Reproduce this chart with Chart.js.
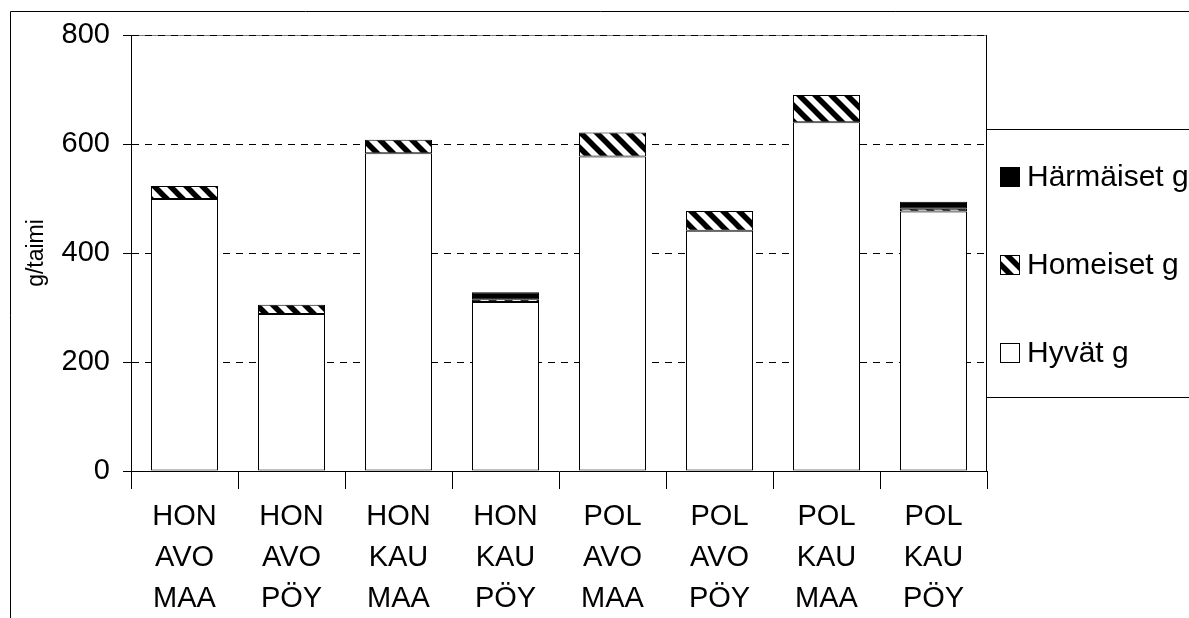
<!DOCTYPE html>
<html>
<head>
<meta charset="utf-8">
<script src="https://cdn.jsdelivr.net/npm/chart.js@4/dist/chart.umd.min.js"></script>
<style>
  body { margin: 0; background: #fff; }
  #chart1 { display: block; }
</style>
</head>
<body>
<canvas id="chart1" width="1189" height="618"></canvas>
<script>
// categories (three label rows each) and stacked series, g/taimi
var categories = [
    ['HON', 'AVO', 'MAA'], ['HON', 'AVO', 'PÖY'], ['HON', 'KAU', 'MAA'], ['HON', 'KAU', 'PÖY'],
    ['POL', 'AVO', 'MAA'], ['POL', 'AVO', 'PÖY'], ['POL', 'KAU', 'MAA'], ['POL', 'KAU', 'PÖY']
]
var hyvat = [499, 288, 583, 310, 577, 441, 640, 476]
var homeiset = [24, 17, 25, 5, 44, 36, 50, 5]
var harmaiset = [0, 0, 0, 13, 0, 0, 0, 13]
var yTicks = [0, 200, 400, 600, 800]

var fontFamily = '"Liberation Sans", Arial, sans-serif'

function makeHatch() {
    var c = document.createElement('canvas')
    c.width = 16
    c.height = 16
    var g = c.getContext('2d')
    g.fillStyle = '#fff'
    g.fillRect(0, 0, 16, 16)
    g.strokeStyle = '#000'
    g.lineWidth = 5.5
    g.beginPath()
    var offs = [-16, 0, 16]
    for (let i = 0; i < offs.length; i++) {
        g.moveTo(offs[i] - 4, -4)
        g.lineTo(offs[i] + 20, 20)
    }
    g.stroke()
    return g.createPattern(c, 'repeat')
}

var frameAndLegend = {
    id: 'frameAndLegend',
    beforeDraw: function(chart) {
        var ctx = chart.ctx
        var a = chart.chartArea
        ctx.save()
        ctx.fillStyle = '#fff'
        ctx.fillRect(0, 0, chart.width, chart.height)
        ctx.strokeStyle = '#000'
        ctx.lineWidth = 1
        ctx.beginPath()
        ctx.moveTo(10.5, chart.height + 2)
        ctx.lineTo(10.5, 11.5)
        ctx.lineTo(chart.width + 2, 11.5)
        ctx.stroke()
        ctx.strokeStyle = '#808080'
        ctx.beginPath()
        ctx.moveTo(a.left, Math.round(a.top) + 0.5)
        ctx.lineTo(a.right, Math.round(a.top) + 0.5)
        ctx.stroke()
        ctx.restore()
    },
    afterDraw: function(chart) {
        var ctx = chart.ctx
        var a = chart.chartArea
        ctx.save()
        ctx.strokeStyle = '#000'
        ctx.lineWidth = 1
        var rx = Math.round(a.right) - 0.5
        ctx.beginPath()
        ctx.moveTo(rx, a.top)
        ctx.lineTo(rx, a.bottom)
        ctx.stroke()
        // legend box, runs off the right edge
        ctx.strokeRect(rx, 129.5, 400, 268)
        var sets = chart.data.datasets.slice().reverse()
        var rowY = [177, 265, 353]
        ctx.font = '30px ' + fontFamily
        ctx.textBaseline = 'middle'
        ctx.textAlign = 'left'
        for (let i = 0; i < sets.length; i++) {
            var y = rowY[i]
            ctx.fillStyle = sets[i].backgroundColor
            ctx.fillRect(1000, y - 10, 20, 20)
            ctx.strokeStyle = '#000'
            ctx.strokeRect(1000.5, y - 9.5, 19, 19)
            ctx.fillStyle = '#000'
            ctx.fillText(sets[i].label, 1027, y + 1)
        }
        ctx.restore()
    }
}

window.onload = () => {
    var ctx = document.getElementById('chart1').getContext('2d')
    var hatch = makeHatch()
    window.myBar = new Chart(ctx, {
        type: 'bar',
        data: {
            labels: categories,
            datasets: [
                { label: 'Hyvät g', data: hyvat, backgroundColor: '#ffffff' },
                { label: 'Homeiset g', data: homeiset, backgroundColor: hatch },
                { label: 'Härmäiset g', data: harmaiset, backgroundColor: '#000000' }
            ]
        },
        plugins: [frameAndLegend],
        options: {
            responsive: false,
            animation: false,
            devicePixelRatio: 1,
            layout: { padding: { left: 10, top: 35, right: 202, bottom: 0 } },
            datasets: {
                bar: {
                    borderColor: '#000',
                    borderWidth: 1,
                    borderSkipped: false,
                    categoryPercentage: 1,
                    barPercentage: 67 / 107
                }
            },
            plugins: {
                legend: { display: false },
                tooltip: { enabled: false }
            },
            scales: {
                x: {
                    stacked: true,
                    afterFit: function(scale) { scale.height = 147 },
                    grid: {
                        offset: true,
                        drawOnChartArea: false,
                        drawTicks: true,
                        tickLength: 18,
                        tickColor: '#000',
                        color: '#000'
                    },
                    border: { display: true, color: '#000', width: 1 },
                    ticks: {
                        color: '#000',
                        padding: 8,
                        maxRotation: 0,
                        autoSkip: false,
                        font: { family: fontFamily, size: 29, lineHeight: 1.4 }
                    }
                },
                y: {
                    stacked: true,
                    min: 0,
                    max: 800,
                    afterFit: function(scale) { scale.width = 121 },
                    afterBuildTicks: function(scale) {
                        scale.ticks = yTicks.map(function(v) { return { value: v } })
                    },
                    grid: {
                        color: '#000',
                        lineWidth: 1,
                        drawTicks: true,
                        tickLength: 8,
                        tickColor: '#000',
                        tickBorderDash: []
                    },
                    border: { display: true, color: '#000', width: 1, dash: [7, 6] },
                    ticks: {
                        color: '#000',
                        padding: 13,
                        font: { family: fontFamily, size: 29 }
                    },
                    title: {
                        display: true,
                        text: 'g/taimi',
                        color: '#000',
                        padding: { top: 13, bottom: 0 },
                        font: { family: fontFamily, size: 23 }
                    }
                }
            }
        }
    })
}
</script>
</body>
</html>
